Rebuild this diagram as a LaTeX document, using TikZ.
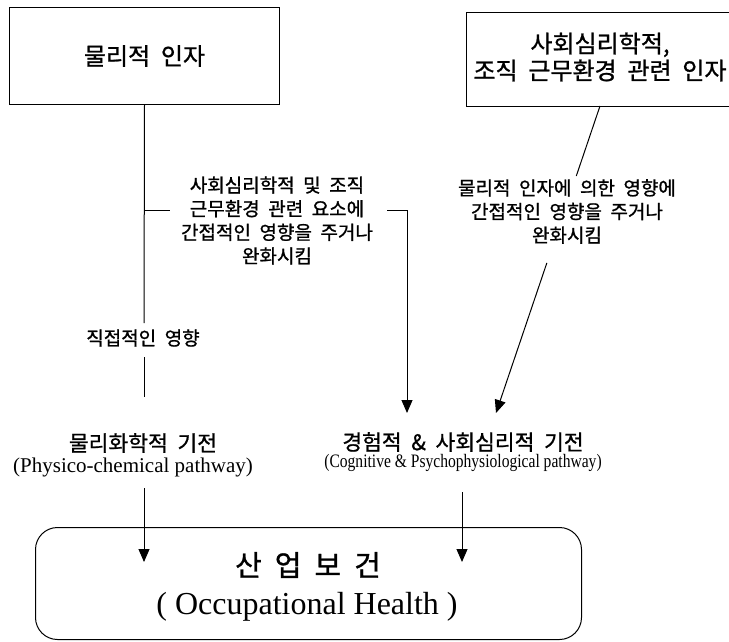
\documentclass[tikz,border=0pt]{standalone}
\usepackage{fontspec}
\setmainfont{Liberation Serif}
\newfontfamily\kr[WordSpace=2,FakeBold=1]{Noto Sans CJK KR}
\newfontfamily\condserif[FakeStretch=0.82]{Liberation Serif}
\usetikzlibrary{arrows.meta,calc}
\begin{document}
\begin{tikzpicture}[x=1pt,y=-1pt,line width=1pt,
  boxnode/.style={draw,anchor=north west,inner sep=0pt},
  lbl/.style={align=center,inner sep=0pt},
  titlefont/.style={font=\kr\fontsize{24}{27}\selectfont},
  smallkr/.style={font=\kr\fontsize{19}{23.6}\selectfont},
  mechkr/.style={font=\kr\fontsize{21.5}{24}\selectfont},
  tip/.style={-{Triangle[length=13pt,width=11pt]}}]
\useasboundingbox (0,0) rectangle (729,641);

% boxes
\node[boxnode,minimum width=270pt,minimum height=97pt,titlefont] (phys) at (9,7) {물리적 인자};
\node[boxnode,minimum width=290pt,minimum height=94pt] (soc) at (466,12) {};
\node[lbl,titlefont] (soctext) at (600,57) {사회심리학적,\\조직 근무환경 관련 인자};
\node[boxnode,rounded corners=22pt,minimum width=546pt,minimum height=112pt] (oh) at (35,527) {};
\node[lbl,font=\kr\fontsize{29}{30}\selectfont] (ohk) at (308,565) {산 업 보 건};
\node[lbl,font=\fontsize{32}{34}\selectfont] (ohe) at (307,607) {( Occupational Health )};

% explanatory texts
\node[lbl,smallkr] (ind1) at (277,220.5) {사회심리학적 및 조직\\근무환경 관련 요소에\\간접적인 영향을 주거나\\완화시킴};
\node[lbl,smallkr] (ind2) at (567,211.5) {물리적 인자에 의한 영향에\\간접적인 영향을 주거나\\완화시킴};
\node[lbl,smallkr] (direct) at (143,338) {직접적인 영향};

% pathways
\node[lbl,mechkr] (m1k) at (143,443) {물리화학적 기전};
\node[lbl,font=\fontsize{21}{24}\selectfont] (m1e) at (133,467) {(Physico-chemical pathway)};
\node[lbl,mechkr] (m2k) at (463,442) {경험적 \& 사회심리적 기전};
\node[lbl,font=\condserif\fontsize{19}{22}\selectfont] (m2e) at (463,463) {(Cognitive \& Psychophysiological pathway)};

% coordinates
\coordinate (d1) at (144,323);
\coordinate (d2) at (144,357);
\coordinate (d3) at (144,397);
\coordinate (d4) at (144,488);
\coordinate (t1) at (144,562);
\coordinate (j) at (144,210);
\coordinate (h1) at (170,210);
\coordinate (h2) at (387,210);
\coordinate (h3) at (407,210);
\coordinate (t2) at (407,413);
\coordinate (s0) at (600,106);
\coordinate (t3) at (496,413);
\coordinate (r1) at (462,492);
\coordinate (t4) at (462,562);

% connectors
\draw (phys.south) -- (d1);
\draw (d2) -- (d3);
\draw[tip] (d4) -- (t1);
\draw (j) -- (h1);
\draw[tip] (h2) -- (h3) -- (t2);
\draw (s0) -- ($(s0)!0.228!(t3)$);
\draw[tip] ($(s0)!0.511!(t3)$) -- (t3);
\draw[tip] (r1) -- (t4);
\end{tikzpicture}
\end{document}
